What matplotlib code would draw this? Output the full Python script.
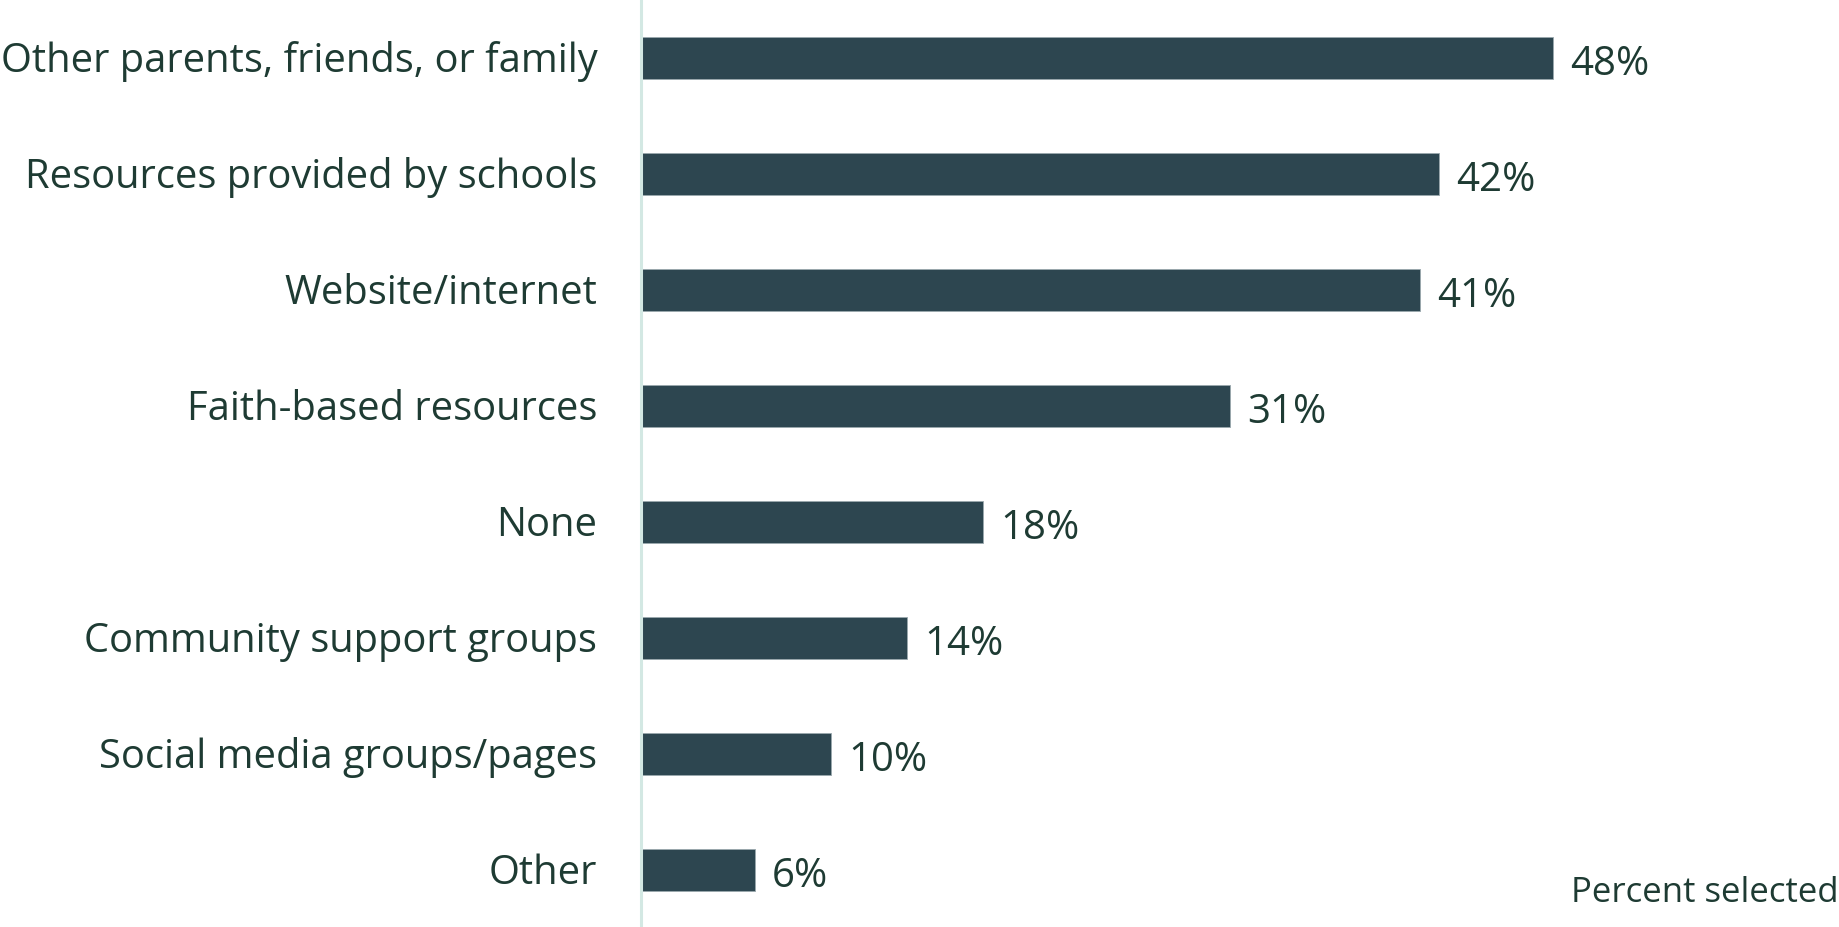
import matplotlib.pyplot as plt

categories = [
    "Other parents, friends, or family",
    "Resources provided by schools",
    "Website/internet",
    "Faith-based resources",
    "None",
    "Community support groups",
    "Social media groups/pages",
    "Other",
]
percents = [48, 42, 41, 31, 18, 14, 10, 6]

BAR = "#2d4650"
TEXT = "#1e3b33"
AXIS = "#d3e8e3"

plt.rcParams["font.family"] = ["Open Sans", "DejaVu Sans"]

W, H = 1839, 928
fig = plt.figure(figsize=(W / 100, H / 100), dpi=100)
left_px = 641
ax = fig.add_axes([left_px / W, 0, 1 - left_px / W, 1])

y = list(range(len(categories)))
ax.barh(y, percents, height=0.36, color=BAR, edgecolor="#9aa8ad", linewidth=0.6)
ax.set_xlim(0, (W - left_px) / 19.0)
ax.set_ylim(7.49, -0.509)

for yi, v in zip(y, percents):
    ax.text(v + 0.9, yi + 0.05, f"{v}%", va="center", ha="left",
            fontsize=29, color=TEXT)
    ax.text(-2.3, yi + 0.02, categories[yi], va="center", ha="right",
            fontsize=28.7, color=TEXT, clip_on=False)

for s in ["top", "right", "bottom"]:
    ax.spines[s].set_visible(False)
ax.spines["left"].set_color(AXIS)
ax.spines["left"].set_linewidth(2.2)
ax.set_xticks([])
ax.set_yticks([])

fig.text(1.0, 26 / H, "Percent selected", ha="right", va="baseline",
         fontsize=25, color=TEXT)

fig.savefig("out.png", dpi=100, facecolor="white")
